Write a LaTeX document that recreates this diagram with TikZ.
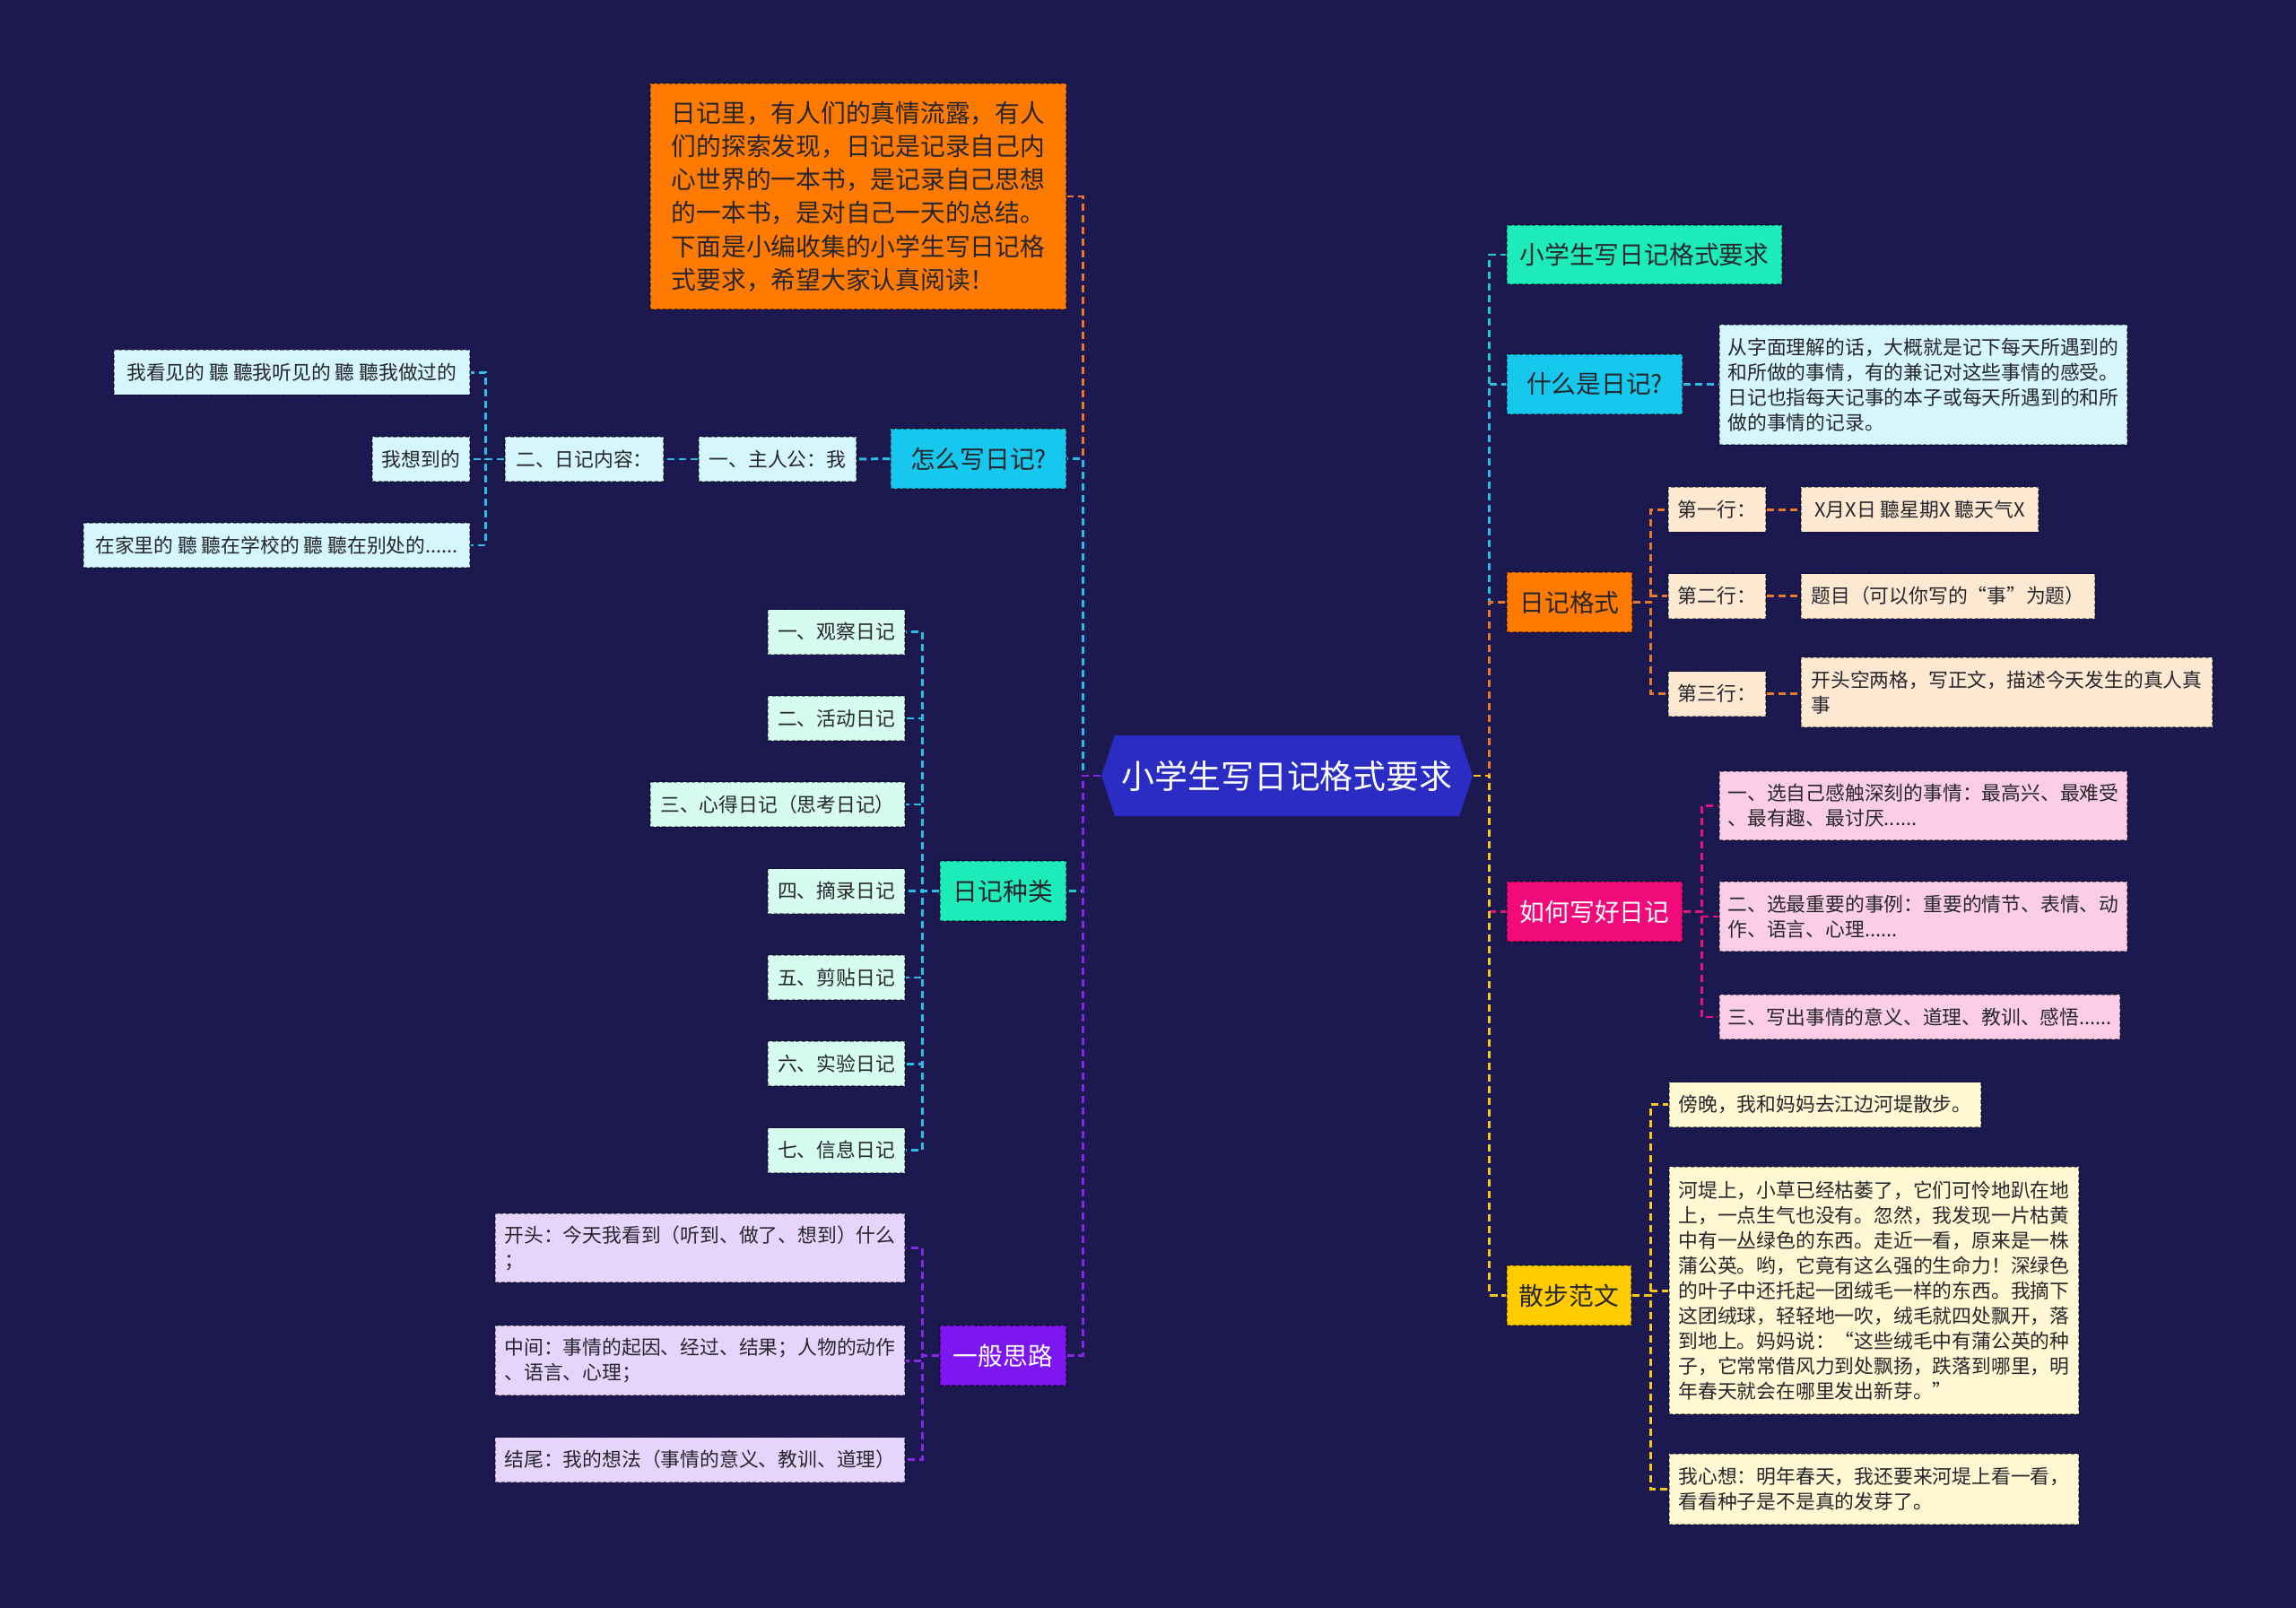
\documentclass[tikz,border=0pt]{standalone}
\usepackage{fontspec}
\setmainfont{Noto Sans CJK SC}
\usetikzlibrary{shapes.symbols}
\definecolor{bgnavy}{RGB}{27,25,80}
\definecolor{rootblue}{RGB}{42,44,195}
\definecolor{inkdark}{RGB}{38,38,44}
\definecolor{fillmint}{RGB}{29,235,185}
\definecolor{fillcyan}{RGB}{22,200,238}
\definecolor{fillorange}{RGB}{255,122,0}
\definecolor{fillpink}{RGB}{240,10,122}
\definecolor{fillyellow}{RGB}{255,204,0}
\definecolor{fillpurple}{RGB}{125,22,240}
\definecolor{paleteal}{RGB}{212,246,252}
\definecolor{palemint}{RGB}{214,252,240}
\definecolor{palepeach}{RGB}{253,232,210}
\definecolor{palepink}{RGB}{252,205,230}
\definecolor{paleyellow}{RGB}{255,248,210}
\definecolor{palelav}{RGB}{230,212,252}
\definecolor{lineteal}{RGB}{30,205,190}
\definecolor{linecyan}{RGB}{40,190,232}
\definecolor{lineorange}{RGB}{232,122,40}
\definecolor{linepink}{RGB}{232,20,122}
\definecolor{lineyellow}{RGB}{250,200,20}
\definecolor{linepurple}{RGB}{135,40,232}
\begin{document}
\begin{tikzpicture}[
    box/.style = {draw = black, draw opacity = .45, line width = .45pt, dash pattern = on 1.2pt off .7pt, inner sep = 0pt, align = left, text = inkdark, font = \fontsize{6.2}{7.95}\selectfont, minimum height = .5cm},
    topic/.style = {box, font = \fontsize{7.9}{10.6}\selectfont, minimum width = 1.96cm, minimum height = .67cm},
    link/.style = {line width = .85pt, dash pattern = on 2.3pt off 1.4pt}
]
    \useasboundingbox (0,0) rectangle (25.6,-17.93);
    \fill [bgnavy] (0,0) rectangle (25.6,-17.93);

    \node [signal, signal to = west and east, signal pointer angle = 143, fill = rootblue, text = white, inner sep = 0pt, minimum width = 4.14cm, minimum height = .9cm, font = \fontsize{10.5}{12}\selectfont] (root) at (14.35,-8.65) {小学生写日记格式要求};

    % left side
    \node [topic, fill = fillorange, minimum width = 4.64cm, minimum height = 2.52cm] (intro) at (9.57,-2.19) {日记里，有人们的真情流露，有人\\们的探索发现，日记是记录自己内\\心世界的一本书，是记录自己思想\\的一本书，是对自己一天的总结。\\下面是小编收集的小学生写日记格\\式要求，希望大家认真阅读！};

    \node [topic, fill = fillcyan] (how) at (10.91,-5.115) {怎么写日记?};
    \node [box, fill = paleteal, minimum width = 1.76cm] (hero) at (8.67,-5.12) {一、主人公：我};
    \node [box, fill = paleteal, minimum width = 1.77cm] (content) at (6.515,-5.12) {二、日记内容：};
    \node [box, fill = paleteal, minimum width = 3.97cm] (seen) at (3.255,-4.155) {我看见的 聽 聽我听见的 聽 聽我做过的};
    \node [box, fill = paleteal, minimum width = 1.09cm] (thought) at (4.695,-5.12) {我想到的};
    \node [box, fill = paleteal, minimum width = 4.31cm] (where) at (3.085,-6.08) {在家里的 聽 聽在学校的 聽 聽在别处的......};

    \node [topic, fill = fillmint, minimum width = 1.41cm] (kinds) at (11.185,-9.935) {日记种类};
    \node [box, fill = palemint, minimum width = 1.53cm] (kindA) at (9.325,-7.045) {一、观察日记};
    \node [box, fill = palemint, minimum width = 1.53cm] (kindB) at (9.325,-8.01) {二、活动日记};
    \node [box, fill = palemint, minimum width = 2.84cm] (kindC) at (8.67,-8.97) {三、心得日记（思考日记）};
    \node [box, fill = palemint, minimum width = 1.53cm] (kindD) at (9.325,-9.935) {四、摘录日记};
    \node [box, fill = palemint, minimum width = 1.53cm] (kindE) at (9.325,-10.90) {五、剪贴日记};
    \node [box, fill = palemint, minimum width = 1.53cm] (kindF) at (9.325,-11.86) {六、实验日记};
    \node [box, fill = palemint, minimum width = 1.53cm] (kindG) at (9.325,-12.825) {七、信息日记};

    \node [topic, fill = fillpurple, text = white, minimum width = 1.41cm] (plan) at (11.185,-15.115) {一般思路};
    \node [box, fill = palelav, minimum width = 4.57cm, minimum height = .77cm] (planA) at (7.805,-13.915) {开头：今天我看到（听到、做了、想到）什么\\；};
    \node [box, fill = palelav, minimum width = 4.57cm, minimum height = .78cm] (planB) at (7.805,-15.17) {中间：事情的起因、经过、结果；人物的动作\\、语言、心理；};
    \node [box, fill = palelav, minimum width = 4.57cm] (planC) at (7.805,-16.275) {结尾：我的想法（事情的意义、教训、道理）};

    % right side
    \node [topic, fill = fillmint, minimum width = 3.07cm, minimum height = .66cm] (title) at (18.335,-2.84) {小学生写日记格式要求};

    \node [topic, fill = fillcyan] (what) at (17.78,-4.285) {什么是日记?};
    \node [box, fill = paleteal, minimum width = 4.55cm, minimum height = 1.34cm] (meaning) at (21.445,-4.29) {从字面理解的话，大概就是记下每天所遇到的\\和所做的事情，有的兼记对这些事情的感受。\\日记也指每天记事的本子或每天所遇到的和所\\做的事情的记录。};

    \node [topic, fill = fillorange, minimum width = 1.40cm] (format) at (17.50,-6.715) {日记格式};
    \node [box, fill = palepeach, minimum width = 1.09cm] (lineA) at (19.145,-5.685) {第一行：};
    \node [box, fill = palepeach, minimum width = 1.09cm] (lineB) at (19.145,-6.645) {第二行：};
    \node [box, fill = palepeach, minimum width = 1.09cm] (lineC) at (19.145,-7.735) {第三行：};
    \node [box, fill = palepeach, minimum width = 2.65cm] (dateA) at (21.405,-5.685) {X月X日 聽星期X 聽天气X};
    \node [box, fill = palepeach, minimum width = 3.28cm] (dateB) at (21.72,-6.645) {题目（可以你写的“事”为题）};
    \node [box, fill = palepeach, minimum width = 4.59cm, minimum height = .78cm] (dateC) at (22.375,-7.72) {开头空两格，写正文，描述今天发生的真人真\\事};

    \node [topic, fill = fillpink, text = white] (good) at (17.78,-10.165) {如何写好日记};
    \node [box, fill = palepink, minimum width = 4.55cm, minimum height = .77cm] (goodA) at (21.445,-8.985) {一、选自己感触深刻的事情：最高兴、最难受\\、最有趣、最讨厌......};
    \node [box, fill = palepink, minimum width = 4.55cm, minimum height = .78cm] (goodB) at (21.445,-10.22) {二、选最重要的事例：重要的情节、表情、动\\作、语言、心理......};
    \node [box, fill = palepink, minimum width = 4.47cm] (goodC) at (21.405,-11.34) {三、写出事情的意义、道理、教训、感悟......};

    \node [topic, fill = fillyellow, minimum width = 1.39cm] (walk) at (17.495,-14.445) {散步范文};
    \node [box, fill = paleyellow, minimum width = 3.48cm] (walkA) at (20.35,-12.315) {傍晚，我和妈妈去江边河堤散步。};
    \node [box, fill = paleyellow, minimum width = 4.57cm, minimum height = 2.76cm] (walkB) at (20.895,-14.39) {河堤上，小草已经枯萎了，它们可怜地趴在地\\上，一点生气也没有。忽然，我发现一片枯黄\\中有一丛绿色的东西。走近一看，原来是一株\\蒲公英。哟，它竟有这么强的生命力！深绿色\\的叶子中还托起一团绒毛一样的东西。我摘下\\这团绒球，轻轻地一吹，绒毛就四处飘开，落\\到地上。妈妈说：“这些绒毛中有蒲公英的种\\子，它常常借风力到处飘扬，跌落到哪里，明\\年春天就会在哪里发出新芽。”};
    \node [box, fill = paleyellow, minimum width = 4.57cm, minimum height = .79cm] (walkC) at (20.895,-16.605) {我心想：明年春天，我还要来河堤上看一看，\\看看种子是不是真的发芽了。};

    % connectors, left
    \draw [link, lineorange] (root.west) -- ++(-0.2,0) |- (intro.east);
    \draw [link, linecyan] (root.west) -- ++(-0.2,0) |- (how.east);
    \draw [link, linecyan] (how.west) -- (hero.east);
    \draw [link, linecyan] (hero.west) -- (content.east);
    \draw [link, linecyan] (content.west) -- ++(-0.21,0) |- (seen.east);
    \draw [link, linecyan] (content.west) -- (thought.east);
    \draw [link, linecyan] (content.west) -- ++(-0.21,0) |- (where.east);
    \draw [link, lineteal] (root.west) -- ++(-0.2,0) |- (kinds.east);
    \foreach \k in {kindA,kindB,kindC,kindD,kindE,kindF,kindG}
        \draw [link, linecyan] (kinds.west) -- ++(-0.19,0) |- (\k.east);
    \draw [link, linepurple] (root.west) -- ++(-0.2,0) |- (plan.east);
    \foreach \k in {planA,planB,planC}
        \draw [link, linepurple] (plan.west) -- ++(-0.19,0) |- (\k.east);

    % connectors, right
    \draw [link, lineteal] (root.east) -- ++(0.18,0) |- (title.west);
    \draw [link, linecyan] (root.east) -- ++(0.18,0) |- (what.west);
    \draw [link, linecyan] (what.east) -- (meaning.west |- what.east);
    \draw [link, lineorange] (root.east) -- ++(0.18,0) |- (format.west);
    \foreach \k/\t in {lineA/dateA,lineB/dateB,lineC/dateC} {
        \draw [link, lineorange] (format.east) -- ++(0.2,0) |- (\k.west);
        \draw [link, lineorange] (\k.east) -- (\t.west |- \k.east);
    }
    \draw [link, linepink] (root.east) -- ++(0.18,0) |- (good.west);
    \foreach \k in {goodA,goodB,goodC}
        \draw [link, linepink] (good.east) -- ++(0.21,0) |- (\k.west);
    \draw [link, lineyellow] (root.east) -- ++(0.18,0) |- (walk.west);
    \foreach \k in {walkA,walkB,walkC}
        \draw [link, lineyellow] (walk.east) -- ++(0.21,0) |- (\k.west);
\end{tikzpicture}
\end{document}
